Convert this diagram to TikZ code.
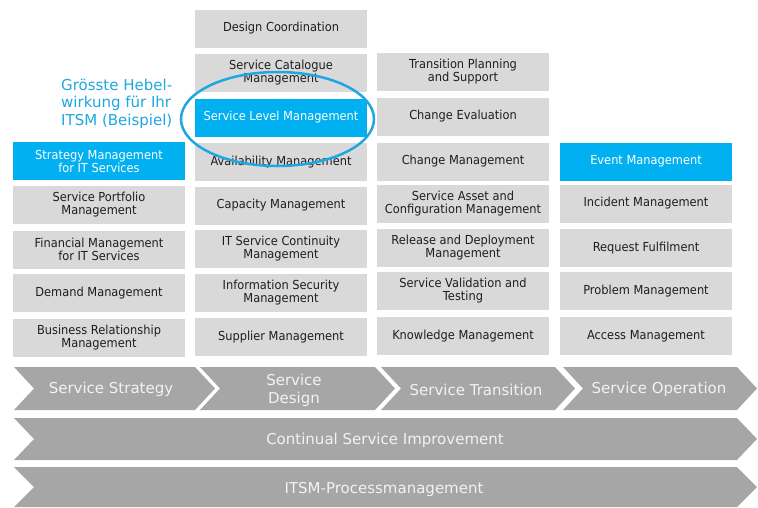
\documentclass[tikz,border=0pt]{standalone}
\usepackage{fontspec}
\setmainfont{DejaVu Sans}
\newfontfamily\condfont{DejaVu Sans}[FakeStretch=0.92]
\usepackage{tikz}

\definecolor{boxgray}{HTML}{D9D9D9}
\definecolor{itilblue}{HTML}{00B0F0}
\definecolor{arrowgray}{HTML}{A6A6A6}
\definecolor{ringblue}{HTML}{1FA7E1}
\definecolor{darktext}{HTML}{1E1E1E}

\tikzset{
  proc/.style={rectangle, fill=boxgray, text=darktext, minimum width=172pt,
    minimum height=38pt, inner sep=0pt, align=center,
    font=\condfont\fontsize{12.4}{13}\selectfont},
  focus/.style={proc, fill=itilblue, text=white},
  phase/.style={fill=arrowgray},
  phasetext/.style={text=white!95!black, align=center, inner sep=0pt,
    font=\fontsize{15}{18}\selectfont},
}

\begin{document}
\begin{tikzpicture}[x=1pt,y=-1pt]
        \useasboundingbox (0,0) rectangle (758,507);
        % Service Strategy
        \node[focus] (smit) at (99,161) {Strategy Management\\for IT Services};
        \node[proc] (spm) at (99,205) {Service Portfolio\\Management};
        \node[proc] (fmit) at (99,249.5) {Financial Management\\for IT Services};
        \node[proc] (dm) at (99,293) {Demand Management};
        \node[proc] (brm) at (99,337.5) {Business Relationship\\Management};
        % Service Design
        \node[proc] (dc) at (281,28.5) {Design Coordination};
        \node[proc] (scm) at (281,73) {Service Catalogue\\Management};
        \node[focus] (slm) at (281,117.5) {Service Level Management};
        \node[proc] (avm) at (281,162) {Availability Management};
        \node[proc] (cpm) at (281,205.5) {Capacity Management};
        \node[proc] (itscm) at (281,249) {IT Service Continuity\\Management};
        \node[proc] (ism) at (281,293) {Information Security\\Management};
        \node[proc] (sum) at (281,337) {Supplier Management};
        % Service Transition
        \node[proc] (tps) at (463,71.5) {Transition Planning\\and Support};
        \node[proc] (ce) at (463,116.5) {Change Evaluation};
        \node[proc] (chm) at (463,161.5) {Change Management};
        \node[proc] (sacm) at (463,204) {Service Asset and\\Configuration Management};
        \node[proc] (rdm) at (463,248) {Release and Deployment\\Management};
        \node[proc] (svt) at (463,291) {Service Validation and\\Testing};
        \node[proc] (km) at (463,336) {Knowledge Management};
        % Service Operation
        \node[focus] (em) at (646,161.5) {Event Management};
        \node[proc] (im) at (646,203.5) {Incident Management};
        \node[proc] (rf) at (646,248) {Request Fulfilment};
        \node[proc] (pm) at (646,291) {Problem Management};
        \node[proc] (am) at (646,336) {Access Management};
        % lifecycle arrows
        \fill[phase] (14,367) -- (195,367) -- (215,388.5) -- (195,410) -- (14,410) -- (34,388.5) -- cycle;
        \fill[phase] (200,367) -- (375,367) -- (395,388.5) -- (375,410) -- (200,410) -- (220,388.5) -- cycle;
        \fill[phase] (381,367) -- (555,367) -- (575,388.5) -- (555,410) -- (381,410) -- (401,388.5) -- cycle;
        \fill[phase] (563,367) -- (737,367) -- (757,388.5) -- (737,410) -- (563,410) -- (583,388.5) -- cycle;
        \fill[phase] (14,418) -- (737,418) -- (757,439) -- (737,460) -- (14,460) -- (34,439) -- cycle;
        \fill[phase] (14,467) -- (737,467) -- (757,487) -- (737,507) -- (14,507) -- (34,487) -- cycle;
        \node[phasetext] (ss) at (111,389.5) {Service Strategy};
        \node[phasetext] (sd) at (294,390) {Service\\Design};
        \node[phasetext] (st) at (476,389.5) {Service Transition};
        \node[phasetext] (so) at (659,389.5) {Service Operation};
        \node[phasetext] (csi) at (385,440.5) {Continual Service Improvement};
        \node[phasetext] (itsm) at (384,489.5) {ITSM-Processmanagement};
        % highlight
        \node[anchor=west, align=left, inner sep=0pt, text=ringblue,
          font=\fontsize{15}{17.5}\selectfont] (hint) at (61,103.5) {Grösste Hebel-\\wirkung für Ihr\\ITSM (Beispiel)};
        \draw[ringblue, line width=2.5pt] (slm.center) ++(-3.5,1.5) ellipse [x radius=96.5pt, y radius=47pt];
\end{tikzpicture}
\end{document}
